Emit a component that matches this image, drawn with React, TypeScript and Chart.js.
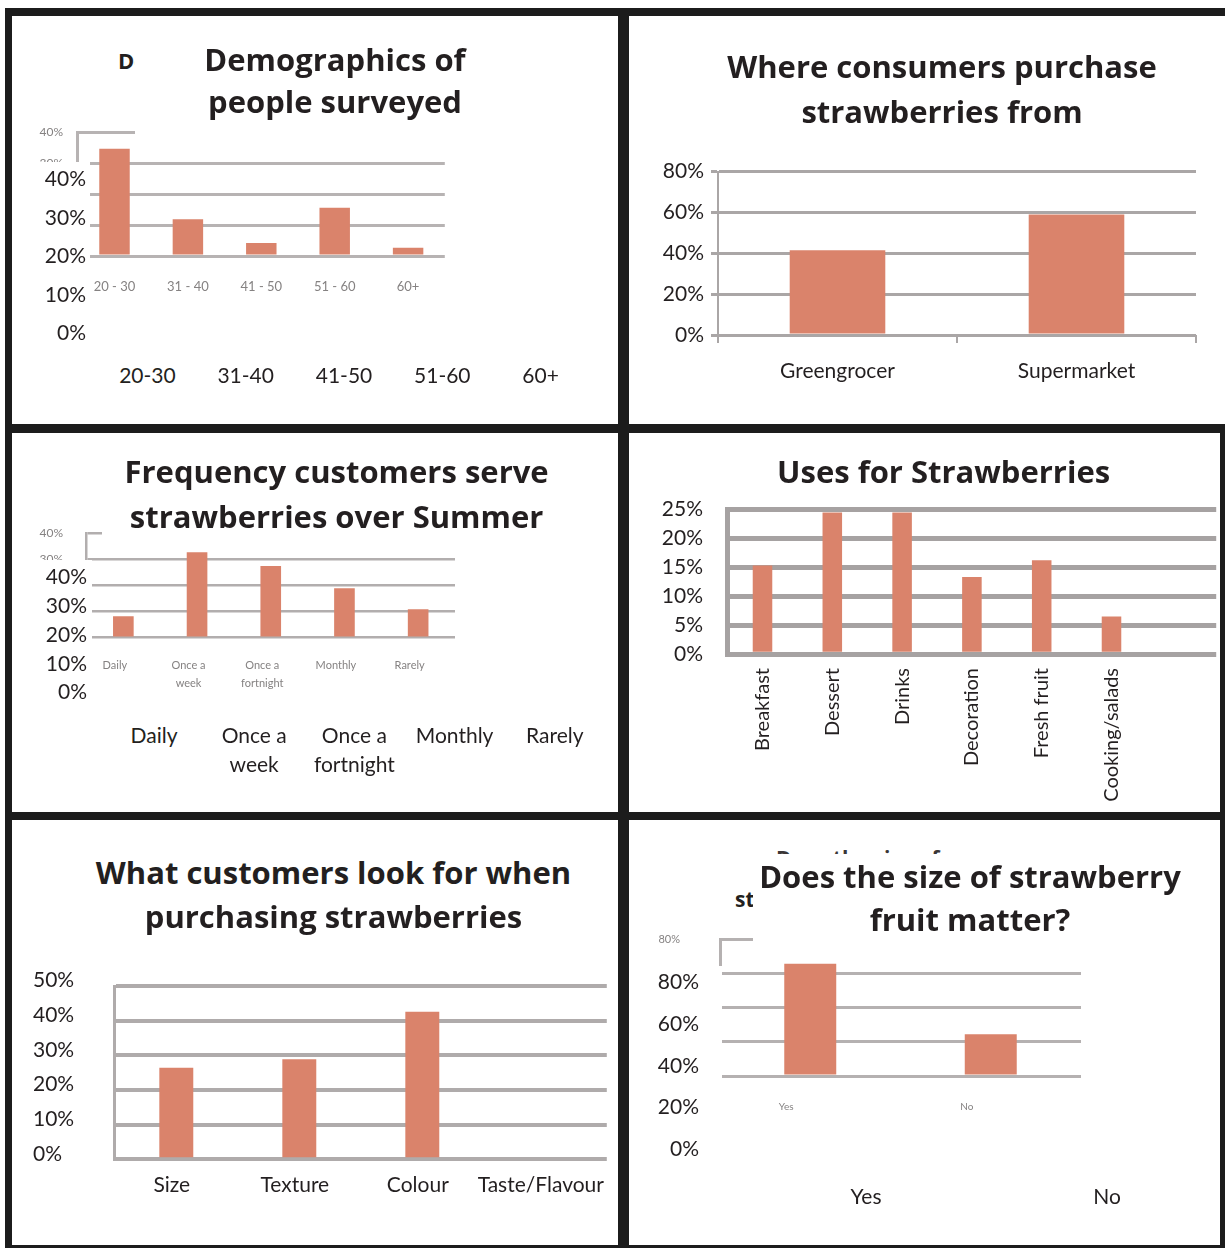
import React, { useEffect, useRef } from 'react';
import { Chart, registerables } from 'chart.js';
Chart.register(...registerables);

// ---------------- data ----------------
const demoTitle = ['Demographics of', 'people surveyed'];
const demoCategories = ['20-30', '31-40', '41-50', '51-60', '60+'];
const demoAxisLabels = ['20 - 30', '31 - 40', '41 - 50', '51 - 60', '60+'];
const demoValues = [34.7, 11.9, 4.2, 15.6, 2.7];
const demoOuterTicks = ['40%', '30%', '20%', '10%', '0%'];

const purchaseTitle = ['Where consumers purchase', 'strawberries from'];
const purchaseCategories = ['Greengrocer', 'Supermarket'];
const purchaseValues = [41.5, 59.0];

const frequencyTitle = ['Frequency customers serve', 'strawberries over Summer'];
const frequencyCategories = [['Daily'], ['Once a', 'week'], ['Once a', 'fortnight'], ['Monthly'], ['Rarely']];
const frequencyValues = [8.2, 32.7, 27.5, 18.9, 10.9];
const frequencyOuterTicks = ['40%', '30%', '20%', '10%', '0%'];

const usesTitle = ['Uses for Strawberries'];
const usesCategories = ['Breakfast', 'Dessert', 'Drinks', 'Decoration', 'Fresh fruit', 'Cooking/salads'];
const usesValues = [15.3, 24.4, 24.4, 13.3, 16.2, 6.5];

const lookTitle = ['What customers look for when', 'purchasing strawberries'];
const lookCategories = ['Size', 'Texture', 'Colour', 'Taste/Flavour'];
const lookValues = [26.4, 28.9, 42.6, 0];

const sizeTitle = ['Does the size of strawberry', 'fruit matter?'];
const sizeCategories = ['Yes', 'No'];
const sizeValues = [65.5, 24.4];
const sizeOuterTicks = ['80%', '60%', '40%', '20%', '0%'];

// ---------------- styles ----------------
const FONT = "Lato, 'Open Sans', 'DejaVu Sans', sans-serif";
const TITLE_FONT = "'Open Sans', Lato, 'DejaVu Sans', sans-serif";
const BAR = '#da836b';
const INK = '#231f20';
const SMALL = '#858282';

type Box = { L: number; T: number; W: number; H: number };
type Plot = { x0: number; x1: number; y0: number; y1: number };

interface Spec {
  canvas: Box;
  plot: Plot;
  labels: any[];
  values: number[];
  max: number;
  step: number;
  barFrac: number;
  gridColor: string;
  gridWidth: number;
  axisColor: string;
  axisWidth: number;
  yFont: number;
  yColor: string;
  yPad: number;
  yCross?: 'near' | 'far';
  yLabelOffset?: number;
  yTickLen?: number;
  xFont: number;
  xColor: string;
  xPad: number;
  xLabelOffset?: number;
  xRotate?: boolean;
  xLineHeight?: number;
  xTickLen?: number;
}

function zeroPad(sc: any) {
  sc.paddingTop = 0;
  sc.paddingBottom = 0;
  sc.paddingLeft = 0;
  sc.paddingRight = 0;
}

function buildConfig(s: Spec): any {
  const c = s.canvas;
  const p = s.plot;
  const yW = p.x0 - c.L;
  const padT = p.y0 - c.T;
  const padR = c.L + c.W - p.x1;
  const xH = c.T + c.H - p.y1;
  return {
    type: 'bar',
    data: {
      labels: s.labels,
      datasets: [
        {
          data: s.values,
          backgroundColor: BAR,
          borderWidth: 0,
          barPercentage: s.barFrac,
          categoryPercentage: 1,
        },
      ],
    },
    options: {
      responsive: false,
      maintainAspectRatio: false,
      animation: false,
      events: [],
      layout: { autoPadding: false, padding: { left: 0, top: padT, right: padR, bottom: 0 } },
      plugins: { legend: { display: false }, tooltip: { enabled: false }, title: { display: false } },
      scales: {
        x: {
          grid: {
            display: !!s.xTickLen,
            drawOnChartArea: false,
            drawTicks: !!s.xTickLen,
            tickLength: s.xTickLen || 0,
            color: s.gridColor,
            lineWidth: 2,
          },
          border: { display: false },
          ticks: {
            autoSkip: false,
            maxRotation: s.xRotate ? 90 : 0,
            minRotation: s.xRotate ? 90 : 0,
            padding: s.xPad,
            labelOffset: s.xLabelOffset || 0,
            color: s.xColor,
            font: { family: FONT, size: s.xFont, lineHeight: s.xLineHeight || 1.2 },
          },
          afterFit: (sc: any) => {
            sc.height = xH;
            zeroPad(sc);
          },
        },
        y: {
          min: 0,
          max: s.max,
          grid: {
            color: s.gridColor,
            lineWidth: s.gridWidth,
            drawTicks: !!s.yTickLen,
            tickLength: s.yTickLen || 0,
          },
          border: { display: true, color: s.axisColor, width: s.axisWidth },
          ticks: {
            autoSkip: false,
            stepSize: s.step,
            padding: s.yPad,
            crossAlign: s.yCross || 'near',
            labelOffset: s.yLabelOffset || 0,
            color: s.yColor,
            font: { family: FONT, size: s.yFont },
            callback: (v: any) => v + '%',
          },
          afterFit: (sc: any) => {
            sc.width = yW;
            zeroPad(sc);
          },
        },
      },
    },
  };
}

function ChartCanvas({ spec }: { spec: Spec }) {
  const ref = useRef<HTMLCanvasElement>(null);
  useEffect(() => {
    const chart = new Chart(ref.current as HTMLCanvasElement, buildConfig(spec));
    return () => chart.destroy();
  }, []);
  const c = spec.canvas;
  return (
    <canvas
      ref={ref}
      width={c.W}
      height={c.H}
      style={{ position: 'absolute', left: c.L, top: c.T, width: c.W, height: c.H }}
    />
  );
}

function Txt(props: {
  x: number;
  y: number;
  children: any;
  size?: number;
  bold?: boolean;
  align?: 'left' | 'center' | 'right';
  color?: string;
  family?: string;
}) {
  const { x, y, children, size = 21, bold = false, align = 'center', color = INK, family = FONT } = props;
  const w = 700;
  const left = align === 'center' ? x - w / 2 : align === 'right' ? x - w : x;
  return (
    <div
      style={{
        position: 'absolute',
        left,
        top: y - size * 0.6,
        width: w,
        textAlign: align,
        fontFamily: family,
        fontSize: size,
        lineHeight: `${size * 1.2}px`,
        fontWeight: bold ? 700 : 400,
        color,
        whiteSpace: 'nowrap',
      }}
    >
      {children}
    </div>
  );
}

function Rect({ l, t, r, b, bg = '#fff' }: { l: number; t: number; r: number; b: number; bg?: string }) {
  return <div style={{ position: 'absolute', left: l, top: t, width: r - l, height: b - t, background: bg }} />;
}

function Title({ lines, x, y, gap = 45 }: { lines: string[]; x: number; y: number; gap?: number }) {
  return (
    <>
      {lines.map((ln, i) => (
        <Txt key={i} x={x} y={y + i * gap} size={31} bold family={TITLE_FONT}>
          {ln}
        </Txt>
      ))}
    </>
  );
}

// ---------------- chart specs ----------------
const demoSpec: Spec = {
  canvas: { L: 14, T: 120, W: 440, H: 190 },
  plot: { x0: 77.8, x1: 444.8, y0: 132.4, y1: 256 },
  labels: demoAxisLabels,
  values: demoValues,
  max: 40,
  step: 10,
  barFrac: 0.415,
  gridColor: '#b7b3b3',
  gridWidth: 3,
  axisColor: '#b7b3b3',
  axisWidth: 3,
  yFont: 12,
  yColor: SMALL,
  yPad: 14.8,
  xFont: 13,
  xColor: SMALL,
  xPad: 23,
};

const purchaseSpec: Spec = {
  canvas: { L: 640, T: 155, W: 566, H: 242 },
  plot: { x0: 718, x1: 1196, y0: 171.7, y1: 335 },
  labels: purchaseCategories,
  values: purchaseValues,
  max: 80,
  step: 20,
  barFrac: 0.4,
  gridColor: '#aaa6a6',
  gridWidth: 3,
  axisColor: '#aaa6a6',
  axisWidth: 2,
  yFont: 21,
  yColor: INK,
  yPad: 7,
  yTickLen: 7,
  xFont: 21,
  xColor: INK,
  xPad: 16,
  xTickLen: 8,
};

const frequencySpec: Spec = {
  canvas: { L: 14, T: 520, W: 450, H: 185 },
  plot: { x0: 86.5, x1: 455, y0: 533.3, y1: 637.7 },
  labels: frequencyCategories,
  values: frequencyValues,
  max: 40,
  step: 10,
  barFrac: 0.28,
  gridColor: '#b2aeae',
  gridWidth: 2.5,
  axisColor: '#b2aeae',
  axisWidth: 2.5,
  yFont: 12,
  yColor: SMALL,
  yPad: 23.5,
  xFont: 11,
  xColor: SMALL,
  xPad: 19,
  xLineHeight: 1.6,
  xLabelOffset: -8.5,
};

const usesSpec: Spec = {
  canvas: { L: 640, T: 492, W: 580, H: 320 },
  plot: { x0: 727.6, x1: 1216.2, y0: 509, y1: 654.3 },
  labels: [...usesCategories, ''],
  values: usesValues,
  max: 25,
  step: 5,
  barFrac: 0.28,
  gridColor: '#a6a2a2',
  gridWidth: 5,
  axisColor: '#a6a2a2',
  axisWidth: 5,
  yFont: 21,
  yColor: INK,
  yPad: 24.6,
  xFont: 20,
  xColor: INK,
  xPad: 13.7,
  xRotate: true,
};

const lookSpec: Spec = {
  canvas: { L: 33, T: 965, W: 580, H: 235 },
  plot: { x0: 114.8, x1: 606.8, y0: 986, y1: 1159.3 },
  labels: lookCategories,
  values: lookValues,
  max: 50,
  step: 10,
  barFrac: 0.276,
  gridColor: '#afabab',
  gridWidth: 4,
  axisColor: '#afabab',
  axisWidth: 3,
  yFont: 21,
  yColor: INK,
  yPad: 10,
  yCross: 'far',
  yLabelOffset: -5.5,
  xFont: 21,
  xColor: INK,
  xPad: 13,
  xLabelOffset: -4.5,
};

const sizeSpec: Spec = {
  canvas: { L: 640, T: 928, W: 450, H: 192 },
  plot: { x0: 720, x1: 1081, y0: 939, y1: 1076 },
  labels: sizeCategories,
  values: sizeValues,
  max: 80,
  step: 20,
  barFrac: 0.288,
  gridColor: '#b5b1b1',
  gridWidth: 3,
  axisColor: '#b5b1b1',
  axisWidth: 3,
  yFont: 11,
  yColor: SMALL,
  yPad: 40,
  xFont: 10,
  xColor: SMALL,
  xPad: 24.7,
  xLabelOffset: -24,
};

export default function App() {
  return (
    <div
      style={{
        position: 'absolute',
        left: 0,
        top: 0,
        width: 1225,
        height: 1248,
        background: '#ffffff',
        overflow: 'hidden',
        fontFamily: FONT,
      }}
    >
      {/* charts */}
      <ChartCanvas spec={demoSpec} />
      <ChartCanvas spec={purchaseSpec} />
      <ChartCanvas spec={frequencySpec} />
      <ChartCanvas spec={usesSpec} />
      <ChartCanvas spec={lookSpec} />
      <ChartCanvas spec={sizeSpec} />

      {/* remnants of the original small chart titles */}
      <Txt x={118} y={60} size={22} bold align="left" family={TITLE_FONT}>
        {demoTitle[0]}
      </Txt>
      <Txt x={776} y={859} size={21} bold align="left" family={TITLE_FONT} color="#3a3637">
        {'Does the size of'}
      </Txt>
      <Txt x={735} y={900} size={21} bold align="left" family={TITLE_FONT}>
        {'strawberry fruit matter?'}
      </Txt>

      {/* white cover boxes of the pasted-over labels */}
      <Rect l={135} t={18} r={615} b={141} />
      <Rect l={13} t={161.5} r={90} b={350} />
      <Rect l={102} t={436} r={615} b={541} />
      <Rect l={13} t={560} r={92} b={708} />
      <Rect l={753} t={854} r={1218} b={946} />
      <Rect l={632} t={966} r={722} b={1170} />

      {/* titles */}
      <Title lines={demoTitle} x={335} y={60} gap={42} />
      <Title lines={purchaseTitle} x={942} y={67} />
      <Title lines={frequencyTitle} x={336.6} y={472} />
      <Title lines={usesTitle} x={943.6} y={472} />
      <Title lines={lookTitle} x={333.5} y={873} gap={44} />
      <Title lines={sizeTitle} x={970} y={877} gap={43} />

      {/* outer labels: demographics */}
      {demoOuterTicks.map((t, i) => (
        <Txt key={'dy' + i} x={86} y={178 + 38.5 * i} align="right">
          {t}
        </Txt>
      ))}
      {demoCategories.map((t, i) => (
        <Txt key={'dx' + i} x={147.4 + 98.3 * i} y={375}>
          {t}
        </Txt>
      ))}

      {/* outer labels: frequency */}
      {frequencyOuterTicks.map((t, i) => (
        <Txt key={'fy' + i} x={87} y={576 + 28.7 * i} align="right">
          {t}
        </Txt>
      ))}
      {frequencyCategories.map((lines, i) =>
        lines.map((ln, j) => (
          <Txt key={'fx' + i + '_' + j} x={154 + 100.2 * i} y={735 + 29 * j}>
            {ln}
          </Txt>
        ))
      )}

      {/* outer labels: size */}
      {sizeOuterTicks.map((t, i) => (
        <Txt key={'sy' + i} x={699} y={981 + 41.6 * i} align="right">
          {t}
        </Txt>
      ))}
      {sizeCategories.map((t, i) => (
        <Txt key={'sx' + i} x={866 + 241 * i} y={1196}>
          {t}
        </Txt>
      ))}

      {/* panel frame */}
      <Rect l={5} t={8} r={1225} b={16} bg="#1c1c1c" />
      <Rect l={5} t={8} r={12} b={1248} bg="#1c1c1c" />
      <Rect l={618} t={8} r={629} b={1248} bg="#1c1c1c" />
      <Rect l={5} t={424} r={1225} b={433} bg="#1c1c1c" />
      <Rect l={5} t={812} r={1225} b={820} bg="#1c1c1c" />
      <Rect l={5} t={1245} r={1225} b={1248} bg="#1c1c1c" />
      <Rect l={1220} t={424} r={1225} b={1248} bg="#1c1c1c" />
    </div>
  );
}
